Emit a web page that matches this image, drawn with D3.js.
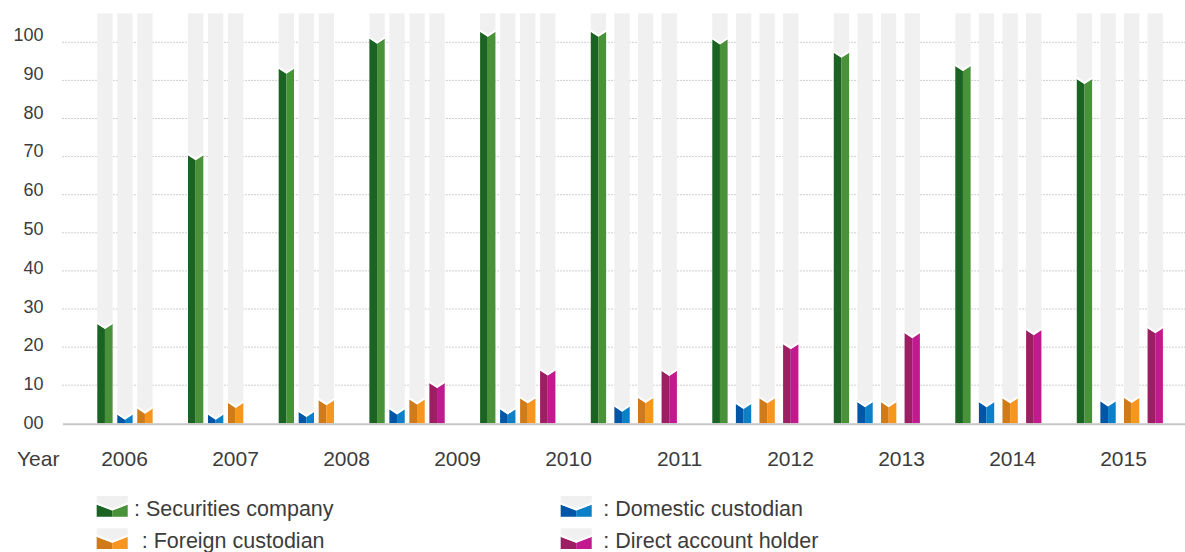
<!DOCTYPE html>
<html><head><meta charset="utf-8">
<script src="https://cdn.jsdelivr.net/npm/d3@7"></script>
<style>html,body{margin:0;padding:0;background:#fff;} svg{display:block;font-family:"Liberation Sans",Arial,Helvetica,sans-serif;}</style>
</head><body><svg id="chart" width="1185" height="552"></svg>
<script>
// ---- data ----
const years = ["2006","2007","2008","2009","2010","2011","2012","2013","2014","2015"];
const securitiesCompany   = [26.1, 70.4, 93.1, 101.0, 102.8, 102.8, 100.8, 97.3, 93.8, 90.4];
const domesticCustodian   = [2.3, 2.3, 3.0, 3.7, 3.7, 4.4, 5.1, 5.6, 5.6, 5.8];
const foreignCustodian    = [3.9, 5.4, 6.1, 6.3, 6.6, 6.7, 6.6, 5.6, 6.6, 6.7];
const directAccountHolder = [null, null, null, 10.6, 13.9, 13.8, 20.8, 23.7, 24.5, 25.0];
const seriesNames = ["Securities company", "Domestic custodian", "Foreign custodian", "Direct account holder"];
const yTicks = [0,10,20,30,40,50,60,70,80,90,100];
const yTickLabels = ["00","10","20","30","40","50","60","70","80","90","100"];
const axisTitle = "Year";

// ---- style / layout ----
const seriesData = [securitiesCompany, domesticCustodian, foreignCustodian, directAccountHolder];
const darkColors  = ["#1b6322", "#0056a6", "#d07b1a", "#9b1f62"];
const lightColors = ["#4a923a", "#0b7fc8", "#f7961f", "#c21a8e"];
const W = 1185, H = 552;
const colW = 15.3, groupGap = 35.4, firstX = 97.3;
const innerGaps = [4.7,4.7,4.7,4.7,4.7,8.3,8.3,8.3,8.3,8.3];
const notch = 5;
const colTopValue = 107.6;
const textColor = "#3c3c3c";

const svg = d3.select("#chart");
const y = d3.scaleLinear().domain([0,100]).range([423.3, 42.3]);
const yLabel = d3.scaleLinear().domain([0,100]).range([422.5, 34.5]);
const xYear = d3.scaleBand().domain(years).range([69, 1179]);

// gridlines
svg.append("g").selectAll("line").data(yTicks.filter(t => t > 0)).join("line")
  .attr("x1", 62).attr("x2", W).attr("y1", d => y(d)).attr("y2", d => y(d))
  .attr("stroke", "#cfcfcf").attr("stroke-width", 1).attr("stroke-dasharray", "2,1");

// tick labels
svg.append("g").selectAll("text").data(yTicks).join("text")
  .attr("x", 43.5).attr("y", d => yLabel(d)).attr("dy", "0.36em")
  .attr("text-anchor", "end").attr("font-size", 18).attr("fill", textColor)
  .text((d,i) => yTickLabels[i]);

// groups
let gx = firstX;
const groups = years.map((yr, i) => {
  const present = seriesNames.map((s, k) => k).filter(k => seriesData[k][i] != null);
  const n = present.length, gap = innerGaps[i];
  const width = n * colW + (n - 1) * gap;
  const band = d3.scaleBand().domain(present).range([gx, gx + width])
    .paddingInner(gap / (colW + gap)).paddingOuter(0);
  gx += width + groupGap;
  return {i, present, band};
});

const y0 = y(0);
const gBars = svg.append("g");
groups.forEach(g => {
  g.present.forEach(k => {
    const v = seriesData[k][g.i];
    const x0 = g.band(k), w = g.band.bandwidth(), xm = x0 + w/2, x1 = x0 + w;
    const yv = y(v);
    gBars.append("rect").attr("x", x0).attr("y", y(colTopValue)).attr("width", w)
      .attr("height", y0 - y(colTopValue)).attr("fill", "#f0f0f0");
    gBars.append("path").attr("d", `M${x0},${yv}L${xm},${yv+notch}L${xm},${y0}L${x0},${y0}Z`).attr("fill", darkColors[k]);
    gBars.append("path").attr("d", `M${xm},${yv+notch}L${x1},${yv}L${x1},${y0}L${xm},${y0}Z`).attr("fill", lightColors[k]);
    gBars.append("path").attr("d", `M${x0},${yv-1}L${xm},${yv+notch-1}L${x1},${yv-1}`)
      .attr("fill", "none").attr("stroke", "#fff").attr("stroke-width", 2);
  });
});

// baseline
svg.append("line").attr("x1", 63).attr("x2", W).attr("y1", y0 + 1).attr("y2", y0 + 1)
  .attr("stroke", "#c6c6c6").attr("stroke-width", 2);

// x labels
svg.append("text").attr("x", 17).attr("y", 465.5).attr("font-size", 21).attr("fill", textColor).text(axisTitle);
svg.append("g").selectAll("text").data(years).join("text")
  .attr("x", d => xYear(d) + xYear.bandwidth()/2).attr("y", 465.5)
  .attr("text-anchor", "middle").attr("font-size", 21).attr("fill", textColor).text(d => d);

// legend
const legendPos = [
  {k:0, ix:96.7, iy:496, tx:134},
  {k:1, ix:560.7, iy:496, tx:603.3},
  {k:2, ix:96.7, iy:528.3, tx:141.7},
  {k:3, ix:560.7, iy:528.3, tx:603.3}
];
const gLeg = svg.append("g");
legendPos.forEach(p => {
  const iw = 31, ih = 20.7, xm = p.ix + iw/2, top = p.iy + 8.5, bot = p.iy + ih;
  gLeg.append("rect").attr("x", p.ix).attr("y", p.iy).attr("width", iw).attr("height", ih).attr("fill", "#f0f0f0");
  gLeg.append("path").attr("d", `M${p.ix},${top}L${xm},${top+6}L${xm},${bot}L${p.ix},${bot}Z`).attr("fill", darkColors[p.k]);
  gLeg.append("path").attr("d", `M${xm},${top+6}L${p.ix+iw},${top}L${p.ix+iw},${bot}L${xm},${bot}Z`).attr("fill", lightColors[p.k]);
  gLeg.append("path").attr("d", `M${p.ix},${top-1}L${xm},${top+5}L${p.ix+iw},${top-1}`).attr("fill","none").attr("stroke","#fff").attr("stroke-width",2);
  gLeg.append("text").attr("x", p.tx).attr("y", p.iy + 19.5).attr("font-size", 21.5).attr("fill", textColor)
    .text(": " + seriesNames[p.k]);
});
</script>
</body></html>
